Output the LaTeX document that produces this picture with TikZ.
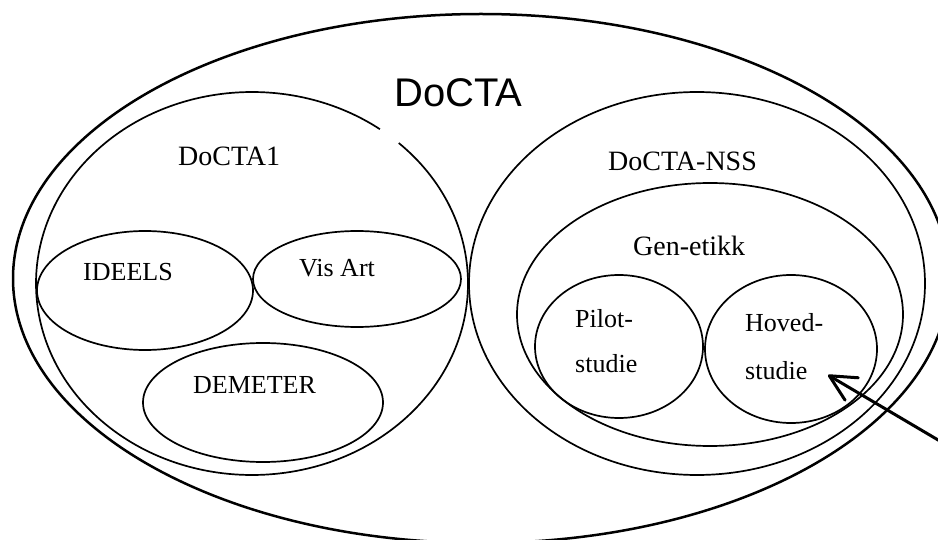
\documentclass[tikz,border=0pt]{standalone}
\usepackage{fontspec}
\setmainfont{Liberation Serif}
\newfontfamily\arialfont{Liberation Sans}
\usetikzlibrary{arrows.meta}
\tikzset{
  ring/.style={draw=black, line width=1.7pt},
  outerring/.style={draw=black, line width=2.5pt},
  lbl/.style={inner sep=0pt, anchor=base west, font=\fontsize{26}{30}\selectfont},
  biglbl/.style={inner sep=0pt, anchor=base west, font=\fontsize{28}{32}\selectfont},
  titlelbl/.style={inner sep=0pt, anchor=base west, font=\arialfont\fontsize{40}{46}\selectfont},
  pointer/.style={draw=black, line width=3pt, line cap=round,
    -{Straight Barb[length=26pt,width=26pt,line width=3pt,line cap=round,line join=round]}}
}
\begin{document}
\begin{tikzpicture}[x=1pt,y=-1pt]
\useasboundingbox (0,0) rectangle (938,540);
\fill[white] (0,0) rectangle (938,540);
\clip (0,0) rectangle (938,540);
% outer DoCTA
\draw[outerring] (481,278.5) ellipse [x radius=468, y radius=264.5];
% DoCTA1 with gap at top right
\draw[ring] (252,283.5) ++(-47.2:216 and 191.5)
  arc [start angle=-47.2, end angle=306.3, x radius=216, y radius=191.5];
% inner ellipses of DoCTA1
\draw[ring] (145,290.5) ellipse [x radius=108, y radius=59.5];
\draw[ring] (357,279) ellipse [x radius=104, y radius=48];
\draw[ring] (263,402.5) ellipse [x radius=120, y radius=59.5];
% DoCTA-NSS
\draw[ring] (697,283.5) ellipse [x radius=228, y radius=191.5];
\draw[ring] (710,314.5) ellipse [x radius=193, y radius=131.5];
\draw[ring] (619,346.5) ellipse [x radius=84, y radius=71.5];
\draw[ring] (791,349) ellipse [x radius=86, y radius=74];
% labels
\node[titlelbl] (docta) at (394,107) {DoCTA};
\node[biglbl] (docta1) at (178,166) {DoCTA1};
\node[lbl] (ideels) at (83,281) {IDEELS};
\node[lbl] (visart) at (299,277) {Vis Art};
\node[lbl] (demeter) at (193,393) {DEMETER};
\node[biglbl] (nss) at (608,171) {DoCTA-NSS};
\node[biglbl] (gen) at (633,256) {Gen-etikk};
\node[lbl] (pilot1) at (575,328) {Pilot-};
\node[lbl] (pilot2) at (575,373) {studie};
\node[lbl] (hoved1) at (745,332) {Hoved-};
\node[lbl] (hoved2) at (745,379) {studie};
% arrow
\coordinate (arrowstart) at (950,447);
\coordinate (arrowtip) at (828,375);
\draw[pointer] (arrowstart) -- (arrowtip);
\end{tikzpicture}
\end{document}
